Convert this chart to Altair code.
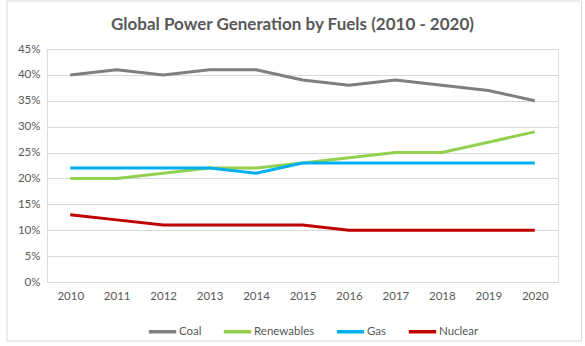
import altair as alt
import pandas as pd

years = ["2010", "2011", "2012", "2013", "2014", "2015", "2016", "2017", "2018", "2019", "2020"]
coal = [40, 41, 40, 41, 41, 39, 38, 39, 38, 37, 35]
renewables = [20, 20, 21, 22, 22, 23, 24, 25, 25, 27, 29]
gas = [22, 22, 22, 22, 21, 23, 23, 23, 23, 23, 23]
nuclear = [13, 12, 11, 11, 11, 11, 10, 10, 10, 10, 10]

series = ["Coal", "Renewables", "Gas", "Nuclear"]
colors = ["#7f7f7f", "#92d050", "#00b0f0", "#c00000"]

rows = []
for name, vals in zip(series, [coal, renewables, gas, nuclear]):
    for y, v in zip(years, vals):
        rows.append({"Year": y, "Fuel": name, "Share": v / 100})
df = pd.DataFrame(rows)

FONT = "Lato"
TXT = "#595959"

lines = alt.Chart(df).mark_line(strokeWidth=3, strokeJoin="round").encode(
    x=alt.X("Year:O", sort=years, title=None,
            scale=alt.Scale(type="point", padding=0.5),
            axis=alt.Axis(labelAngle=0, ticks=False, domain=False, grid=False,
                          labelPadding=8, labelFontSize=11.5, labelColor=TXT, labelFont=FONT)),
    y=alt.Y("Share:Q", title=None,
            scale=alt.Scale(domain=[0, 0.45]),
            axis=alt.Axis(format=".0%", values=[i / 100 for i in range(0, 50, 5)],
                          ticks=False, domain=False, gridColor="#d9d9d9", gridWidth=1,
                          labelPadding=7, labelFontSize=11.5, labelColor=TXT, labelFont=FONT)),
    color=alt.Color("Fuel:N", sort=series,
                    scale=alt.Scale(domain=series, range=colors),
                    legend=alt.Legend(title=None, orient="none", direction="horizontal",
                                      legendX=100, legendY=267,
                                      symbolType="stroke", symbolSize=750, symbolStrokeWidth=3.5,
                                      labelFontSize=11.5, labelColor=TXT, labelFont=FONT,
                                      columnPadding=14, labelOffset=1)),
)

border = alt.Chart(pd.DataFrame({"a": [0]})).mark_rect(
    fill=None, stroke="#d9d9d9", strokeWidth=1, clip=False
).encode(x=alt.value(-40), x2=alt.value(534.5), y=alt.value(-48), y2=alt.value(292))

chart = alt.layer(border, lines).properties(
    width=511, height=233,
    title=alt.TitleParams("Global Power Generation by Fuels (2010 - 2020)",
                          fontSize=17, font=FONT, fontWeight="bold", color=TXT,
                          anchor="middle", frame="group", dx=-10, offset=-33),
    autosize=alt.AutoSizeParams(type="none"),
    padding={"left": 47, "top": 49, "right": 27, "bottom": 64},
).configure_view(stroke=None).configure(background="white")

chart.save("out.html", embed_options={"renderer": "svg", "actions": False})
